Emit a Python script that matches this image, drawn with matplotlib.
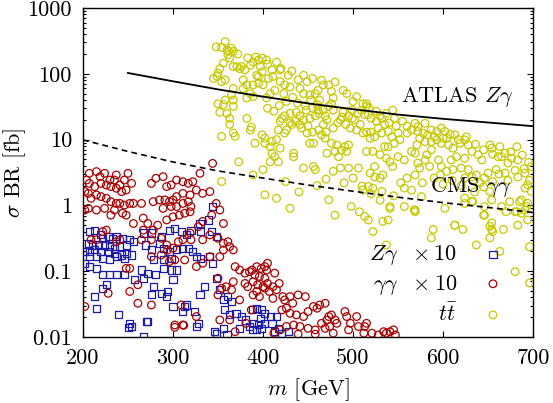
import numpy as np
import matplotlib
matplotlib.use("Agg")
import matplotlib.pyplot as plt
from matplotlib.ticker import LogLocator, NullFormatter, FixedLocator, FixedFormatter

plt.rcParams['font.family'] = 'serif'
plt.rcParams['font.serif'] = ['cmr10', 'DejaVu Serif']
plt.rcParams['mathtext.fontset'] = 'cm'
plt.rcParams['axes.unicode_minus'] = False
plt.rcParams['axes.formatter.use_mathtext'] = True

# ---------------- data ----------------
# ATLAS Z gamma limit (solid)
atlas_m = [250, 300, 350, 400, 450, 500, 550, 600, 650, 700]
atlas_v = [103, 77, 58, 45, 35.5, 29, 24, 20.7, 18.2, 16]
# CMS gamma gamma limit (dashed)
cms_m = [200, 250, 300, 350, 400, 450, 500, 550, 600, 650, 700]
cms_v = [9.9, 6.6, 4.57, 3.34, 2.6, 2.04, 1.64, 1.33, 1.10, 0.93, 0.78]

# Z gamma x 10 (blue squares)
zg_points = [
    (207,0.40),(213,0.42),(219,0.355),(222,0.316),(228,0.335),(233,0.316),(237,0.335),(244,0.316),
    (252,0.30),(256,0.28),(248,0.25),(241,0.236),(235,0.223),(230,0.236),(224,0.25),(217,0.25),
    (211,0.25),(206,0.265),(202,0.198),(207,0.198),(213,0.21),(220,0.198),(228,0.198),(235,0.187),
    (243,0.176),(248,0.187),(254,0.176),(246,0.157),(237,0.166),(230,0.148),(222,0.157),(215,0.166),
    (207,0.166),(267,0.38),(276,0.38),(287,0.335),(296,0.42),(302,0.45),(309,0.40),(315,0.355),
    (320,0.42),(331,0.40),(343,0.40),(348,0.335),(330,0.53),(339,0.60),(344,0.96),(285,0.265),
    (289,0.223),(296,0.198),(304,0.21),(311,0.223),(317,0.223),(322,0.198),(326,0.166),(331,0.157),
    (341,0.166),(344,0.132),(276,0.21),(269,0.25),(278,0.148),(289,0.148),(298,0.157),(304,0.104),
    (298,0.104),(289,0.11),(281,0.0875),(272,0.093),(265,0.104),(267,0.078),(257,0.0735),(246,0.0875),
    (237,0.0875),(230,0.0875),(222,0.0875),(215,0.11),(207,0.117),(202,0.132),(226,0.062),(222,0.055),
    (213,0.041),(215,0.0273),(278,0.058),(276,0.0435),(287,0.046),(294,0.049),(293,0.041),(300,0.029),
    (313,0.029),(311,0.0243),(324,0.0243),(328,0.0161),(326,0.0144),(315,0.0306),(330,0.0435),
    (335,0.058),(348,0.078),(352,0.052),(356,0.0365),(361,0.041),(365,0.0344),(357,0.0257),
    (363,0.0216),(370,0.0229),(376,0.0204),(381,0.0181),(385,0.0144),(374,0.0135),(356,0.0135),
    (348,0.0114),(239,0.0216),(252,0.0161),(254,0.0144),(272,0.0171),(267,0.0101),(300,0.0735),
    (388,0.0257),(393,0.0273),(398,0.0257),(402,0.0229),(408,0.0204),(415,0.0204),(410,0.0161),
    (402,0.0161),(395,0.0152),(389,0.0161),(397,0.0192),(388,0.0128),(393,0.0128),(398,0.0135),
    (413,0.012),(421,0.0114),(428,0.012),(417,0.0135),(251,0.014),(271,0.017),(346,0.012),(360,0.011),
]

# gamma gamma x 10 (dark red circles)
gg_points = [
    (207,3.07),(215,3.26),(219,2.73),(224,3.07),(230,2.43),(237,2.9),(235,2.43),(241,2.04),(246,2.43),
    (250,3.07),(254,2.16),(248,1.71),(243,1.62),(237,1.82),(231,1.93),(226,2.04),(220,2.16),(213,1.93),
    (207,2.16),(204,2.43),(202,1.62),(206,1.52),(209,1.28),(215,1.44),(220,1.36),(226,1.28),(231,1.14),
    (237,1.07),(241,1.07),(246,1.01),(252,1.07),(256,1.07),(265,1.07),(244,0.76),(235,0.85),(224,0.90),
    (215,0.85),(206,0.90),(202,0.85),(231,0.71),(248,0.71),(256,0.53),(267,0.64),(272,0.53),(276,2.16),
    (281,2.58),(289,2.73),(293,1.93),(298,2.04),(304,2.43),(311,2.29),(317,2.16),(322,2.29),(330,3.07),
    (344,4.35),(341,1.62),(333,1.52),(326,1.71),(319,1.44),(311,1.52),(304,1.36),(300,1.21),(296,1.14),
    (291,1.21),(285,1.21),(278,1.14),(289,0.90),(298,0.96),(304,0.96),(311,1.07),(317,1.14),(320,0.96),
    (319,0.80),(313,0.76),(307,0.71),(300,0.67),(293,0.60),(283,0.50),(278,0.42),(267,0.42),(265,0.30),
    (276,0.30),(287,0.316),(293,0.25),(294,0.21),(300,0.223),(306,0.28),(311,0.30),(319,0.38),(328,0.475),
    (333,0.57),(343,0.71),(348,1.07),(352,0.85),(356,0.53),(341,0.355),(333,0.30),(320,0.30),(350,0.316),
    (356,0.265),(361,0.28),(363,0.236),(367,0.21),(356,0.21),(352,0.166),(341,0.166),(333,0.132),
    (326,0.117),(313,0.148),(302,0.148),(296,0.14),(287,0.176),(276,0.166),(252,0.11),(248,0.11),
    (261,0.062),(252,0.049),(228,0.046),(202,0.029),(261,0.0325),(276,0.0306),(309,0.0306),(302,0.0152),
    (311,0.0152),(326,0.0204),(350,0.078),(354,0.055),(359,0.058),(365,0.052),(367,0.069),(369,0.117),
    (374,0.104),(380,0.093),(385,0.098),(380,0.065),(383,0.058),(350,0.0435),(352,0.0181),(363,0.0181),
    (369,0.012),(381,0.0161),(387,0.0257),(374,0.0365),(209,0.30),(215,0.30),(222,0.40),(226,0.42),
    (237,0.28),(241,0.30),
    (388,0.104),(393,0.117),(398,0.11),(404,0.104),(391,0.0875),(396,0.083),(402,0.078),(389,0.069),
    (394,0.062),(400,0.058),(405,0.065),(411,0.058),(418,0.065),(415,0.052),(407,0.049),(402,0.055),
    (393,0.049),(389,0.0435),(396,0.041),(411,0.0385),(422,0.041),(424,0.0365),(430,0.041),(439,0.0435),
    (447,0.041),(433,0.0325),(426,0.0273),(421,0.0257),(430,0.0229),(437,0.0216),(445,0.0204),
    (450,0.0243),(456,0.029),(460,0.0273),(463,0.0306),(469,0.0325),(473,0.0204),(476,0.0216),
    (471,0.0181),(465,0.0161),(458,0.0128),(450,0.0135),(441,0.0144),(434,0.0152),(426,0.0144),
    (419,0.0128),(412,0.0114),(480,0.0181),(482,0.0161),(474,0.0144),(469,0.0135),(478,0.0114),
    (491,0.0243),(493,0.0204),(497,0.0161),(495,0.0128),(504,0.0204),(506,0.0144),(513,0.0144),
    (515,0.0161),(512,0.0114),(521,0.0114),(528,0.0107),(534,0.012),(537,0.0114),(541,0.012),
    (545,0.0128),(547,0.0107),(405,0.132),(402,0.117),(413,0.093),(302,0.014),(312,0.015),
    (439,0.011),(458,0.011),
]

# t tbar (yellow circles)
tt_points = [
    (348,257),(354,251),(358,309),(360,229),(365,245),(367,219),(361,195),(363,174),(356,145),(352,120),
    (350,102),(345,85),(349,91),(354,76),(358,81),(367,129),(371,129),(374,120),(376,129),(380,115),
    (386,135),(389,151),(395,162),(399,174),(404,162),(397,129),(393,95),(395,91),(399,107),(406,85),
    (410,115),(415,151),(419,115),(411,91),(419,76),(428,95),(424,68),(430,63),(439,81),(449,76),
    (441,60),(445,50),(423,50),(413,56),(408,50),(404,43),(400,68),(395,72),(389,68),(382,68),
    (378,81),(378,60),(386,50),(389,45),(382,43),(367,60),(365,48),(367,40),(367,32),(358,40),
    (350,35),(352,26),(360,25),(363,21),(363,17),(356,34),(382,21),(387,15.5),(386,14),(367,12.6),
    (369,11.2),(354,11.2),(399,11.8),(402,10.5),(391,8.8),(402,8.8),(410,9.4),(415,10),(419,7.4),
    (408,7.8),(410,6.2),(413,5.5),(408,4.6),(417,4.6),(373,4.6),(400,3.5),(389,2.9),(354,2.3),
    (415,1.28),(402,1.45),(434,6.2),(434,5.5),(445,3.7),(456,3.9),(458,3.5),(452,8.8),(456,8.8),
    (449,12.6),(441,17),(445,20),(441,23),(437,26),(430,25),(424,23),(421,21),(419,19),(417,14),
    (424,12.6),(426,14),(432,17),(436,19),(452,21),(458,23),(461,28),(460,34),(463,40),(458,50),
    (452,48),(461,56),(467,68),(473,68),(476,54),(478,43),(476,35),(473,32),(467,28),(469,23),
    (471,20),(467,17),(465,11.8),(469,10.5),(476,8.8),(482,8.3),(487,6.9),(480,6.6),(484,5.5),
    (478,3.3),(486,3.7),(495,3.7),(506,3.7),(510,1.96),(511,1.71),(473,1.21),(471,6.2),(493,6.6),
    (515,6.6),(495,8.3),(491,7.8),(504,14),(511,12.6),(508,17),(515,13),(499,21),(502,20),(495,23),
    (499,28),(489,26),(486,20),(500,38),(504,45),(511,35),(515,32),(489,56),(493,50),(478,28),
    (515,35),(517,24),(520,21),(526,19),(532,21),(537,25),(544,28),(546,21),(535,17),(528,15),
    (520,13),(519,10.5),(524,11),(532,12.6),(539,13.3),(543,11),(550,12.6),(552,10),(546,8.8),
    (539,7.8),(535,7.8),(522,6.6),(530,5.9),(537,5.2),(541,4.6),(550,5.5),(557,4.9),(544,3.9),
    (524,3.9),(519,3.1),(524,2.7),(530,2.6),(533,2.9),(517,1.94),(522,1.83),(532,1.63),(541,0.96),
    (539,0.60),(569,0.85),(557,1.83),(560,2.6),(569,2.9),(574,3.7),(572,4.4),(569,6.2),(565,6.6),
    (571,8.3),(574,10.5),(580,9.3),(583,11.8),(572,13.3),(560,12.6),(569,17.7),(572,15.8),(580,17.7),
    (587,14),(593,13.3),(598,15),(602,13.3),(604,10.5),(598,8.8),(593,9.9),(587,9.3),(587,7),
    (582,5.9),(580,4.9),(585,3.9),(595,4.9),(598,3.9),(597,2.9),(604,3.3),(611,3.5),(609,4.9),
    (615,5.5),(611,7.4),(606,8.3),(619,8.8),(613,11.8),(624,9.9),(628,8.3),(632,6.6),(624,5.2),
    (628,3.5),(620,3.7),(632,2.7),(624,2.6),(637,2.9),(641,2.2),(646,2.6),(650,3.1),(643,4.9),
    (639,5.9),(654,7.4),(652,8.3),(663,7.8),(661,5.5),(669,6.2),(676,5.2),(672,4.4),(683,4.9),
    (682,7.8),(669,3.1),(659,3.5),(672,2.4),(683,2.7),(691,3.1),(696,2.4),(694,2.05),(691,1.83),
    (698,1.63),(698,3.9),(687,1.21),(694,1.08),(691,0.85),(682,0.80),(665,0.96),(652,1.63),(654,1.21),
    (646,0.96),(645,0.71),(654,0.54),(632,1.15),(624,1.29),(613,0.50),(576,1.36),(569,0.80),(557,0.96),
    (480,0.71),(498,0.96),(507,0.80),(513,0.68),(517,0.60),(522,0.40),(533,0.57),(541,0.90),(537,0.25),
    (568,0.85),(602,0.90),(589,0.43),(587,0.32),(613,0.50),(622,0.43),(624,1.07),(633,1.14),(637,0.25),
    (646,0.71),(652,0.48),(654,0.43),(655,0.40),(652,0.32),(663,0.20),(667,0.43),(670,0.80),(674,1.14),
    (680,0.80),(685,1.14),(687,0.76),(683,0.50),(693,0.96),(694,0.60),(696,0.235),(680,0.098),
    (696,0.066),(430,0.90),
    (405,30),(412,27),(418,33),(426,38),(433,44),(438,36),(447,33),(453,40),(455,30),(462,25),
    (448,28),(430,18),(443,15),(450,16),(455,13),(462,14),(470,13),(478,15),(483,18),(488,22),
    (492,17),(497,15),(505,25),(509,28),(513,24),(518,30),(526,27),(530,23),(540,18),(548,16),
    (555,19),(560,16),(565,14),(578,12.5),(590,11),(600,10.5),(608,12),(617,10),(626,11),(636,8.5),
    (645,7),(655,6),(665,5.5),(675,6.5),(688,5.8),(695,4.5),(690,3.6),(680,3.4),(662,3),(655,2.3),
    (645,1.9),(635,1.6),(620,2),(610,2.4),(600,2.1),(590,2.6),(577,2.2),(565,1.7),(553,2.2),(545,1.4),
    (530,1.2),(520,1.5),(500,2.6),(490,2.2),(470,2.5),(460,2.0),(440,1.6),(425,2.3),(362,220),
    (372,200),(383,175),(392,180),(405,140),(420,120),(432,110),(445,95),(455,85),(465,80),(480,75),
]

zg = np.array(zg_points)
gg = np.array(gg_points)
tt = np.array(tt_points)

blue = '#1c1ca8'
red = '#a80000'
yellow = '#c8c800'

fig = plt.figure(figsize=(5.53, 4.03), dpi=100)
ax = fig.add_axes([0.150, 0.164, 0.814, 0.816])

ax.scatter(zg[:, 0], zg[:, 1], s=26, marker='s', facecolors='none',
           edgecolors=blue, linewidths=0.9, label=r'$Z\gamma\ \ \times 10$', zorder=3)
ax.scatter(gg[:, 0], gg[:, 1], s=30, marker='o', facecolors='none',
           edgecolors=red, linewidths=0.9, label=r'$\gamma\gamma\ \ \times 10$', zorder=3)
ax.scatter(tt[:, 0], tt[:, 1], s=30, marker='o', facecolors='none',
           edgecolors=yellow, linewidths=0.9, label=r'$t\bar{t}$', zorder=3)

ax.plot(atlas_m, atlas_v, color='black', lw=1.3, zorder=4)
ax.plot(cms_m, cms_v, color='black', lw=1.2, ls=(0, (3.5, 2.5)), zorder=4)

ax.text(678, 45, r'ATLAS $Z\gamma$', ha='right', va='center', fontsize=16, zorder=5)
ax.text(676, 1.87, r'CMS $\gamma\gamma$', ha='right', va='center', fontsize=16, zorder=5)

ax.set_yscale('log')
ax.set_xlim(200, 700)
ax.set_ylim(0.01, 1000)

ax.xaxis.set_major_locator(FixedLocator([200, 300, 400, 500, 600, 700]))
ax.xaxis.set_major_formatter(FixedFormatter(['200', '300', '400', '500', '600', '700']))
yt = [0.01, 0.1, 1, 10, 100, 1000]
ax.yaxis.set_major_locator(FixedLocator(yt))
ax.yaxis.set_major_formatter(FixedFormatter(['0.01', '0.1', '1', '10', '100', '1000']))
ax.yaxis.set_minor_locator(LogLocator(base=10, subs=np.arange(2, 10), numticks=20))
ax.yaxis.set_minor_formatter(NullFormatter())

ax.tick_params(which='both', direction='in', top=True, right=True, labelsize=16, width=0.8)
ax.tick_params(which='major', length=4.5, pad=8)
ax.tick_params(which='minor', length=2.3)
for sp in ax.spines.values():
    sp.set_linewidth(1.0)

ax.set_xlabel(r'$m$ [GeV]', fontsize=16, labelpad=6)
ax.set_ylabel(r'$\sigma$ BR [fb]', fontsize=16)
ax.yaxis.set_label_coords(-0.122, 0.5)

leg = ax.legend(loc='lower right', bbox_to_anchor=(0.98, 0.01), markerfirst=False,
                frameon=False, fontsize=16, labelspacing=0.25, handletextpad=0.6,
                borderaxespad=0, scatterpoints=1)

fig.savefig('out.png', dpi=100)
